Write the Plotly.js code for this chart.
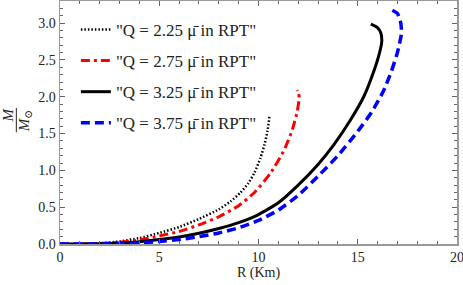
<!DOCTYPE html>
<html><head><meta charset="utf-8">
<script src="https://cdn.plot.ly/plotly-3.0.1.min.js"></script>
<style>html,body{margin:0;padding:0;background:#fff}#c{width:463px;height:285px}</style>
</head><body><div id="c"></div>
<script>
const names = ['"Q = 2.25 μ̄ in RPT"','"Q = 2.75 μ̄ in RPT"','"Q = 3.25 μ̄ in RPT"','"Q = 3.75 μ̄ in RPT"'];
const R1 = [0,1,2,3,4,5,6,7,8,8.6,9.1,9.5,9.8,10.1,10.3,10.45,10.55];
const M1 = [0,0.001,0.01,0.035,0.08,0.15,0.23,0.34,0.47,0.58,0.7,0.83,0.97,1.17,1.35,1.53,1.73];
const R2 = [0,1,2,3,4,5,6,7,8,9,9.8,10.6,11.3,11.7,11.95,12.05,12.02,11.95];
const M2 = [0,0.001,0.007,0.022,0.055,0.11,0.17,0.26,0.37,0.52,0.7,0.96,1.28,1.55,1.8,1.98,2.05,2.09];
const R3 = [0,1,2,3,4,5,6,7,8,9,10,11,12,13,13.8,14.6,15.3,15.8,16.1,16.21,16.16,15.99,15.66];
const M3 = [0,0.0005,0.003,0.012,0.03,0.06,0.095,0.145,0.21,0.29,0.4,0.56,0.8,1.08,1.35,1.67,2.0,2.34,2.6,2.75,2.87,2.94,2.985];
const R4 = [0,1,2,3,4,5,6,7,8,9,10,11,12,13,14,15,15.7,16.3,16.7,17.0,17.2,17.17,17.0,16.7];
const M4 = [0,0.0002,0.001,0.005,0.015,0.035,0.06,0.1,0.15,0.22,0.32,0.46,0.66,0.92,1.2,1.53,1.79,2.08,2.35,2.6,2.86,3.0,3.13,3.18];
const xTitle = 'R (Km)';

const SERIF = 'Liberation Serif, Times New Roman, DejaVu Serif, serif';
const styles = [
  {color:'#000000', width:2.5, dash:'1.5px,2px'},
  {color:'#ff0000', width:3, dash:'9px,4px,3px,4px'},
  {color:'#000000', width:3, dash:'solid'},
  {color:'#0000ff', width:3.5, dash:'9px,5px'}
];
const data = [[R1,M1],[R2,M2],[R3,M3],[R4,M4]].map((d,i)=>({
  x:d[0], y:d[1], type:'scatter', mode:'lines', name:names[i],
  legendgroup:'g'+i, line:Object.assign({shape:'spline', smoothing:0.5}, styles[i])
}));
const ax = {
  showgrid:false, zeroline:false, showline:true, linecolor:'#999', linewidth:1.5,
  mirror:'allticks', ticks:'inside', ticklen:5, tickcolor:'#666', tickwidth:1,
  ticklabeloverflow:'allow',
  tickfont:{family:SERIF, size:14, color:'#222'}
};
const layout = {
  width:463, height:285, margin:{l:60, r:6, t:1, b:41},
  paper_bgcolor:'#fff', plot_bgcolor:'#fff',
  font:{family:SERIF, color:'#222'},
  xaxis:Object.assign({}, ax, {range:[0,20], dtick:5, tick0:0,
    minor:{dtick:1, ticks:'inside', ticklen:3, tickcolor:'#666'},
    title:{text:xTitle, font:{family:SERIF, size:14, color:'#222'}, standoff:2}}),
  yaxis:Object.assign({}, ax, {range:[0,3.3], dtick:0.5, tick0:0, tickformat:'.1f',
    minor:{dtick:0.1, ticks:'inside', ticklen:3, tickcolor:'#666'}}),
  showlegend:true,
  legend:{x:0.04, y:0.955, xanchor:'left', yanchor:'top', bgcolor:'rgba(0,0,0,0)',
    traceorder:'grouped', tracegroupgap:6, font:{family:SERIF, size:17, color:'#222'}},
  annotations:[
    {xref:'paper', yref:'paper', x:-0.13, y:0.53, xanchor:'center', yanchor:'middle', showarrow:false,
     text:'<i>M</i>', textangle:-90, font:{family:SERIF, size:15, color:'#222'}},
    {xref:'paper', yref:'paper', x:-0.088, y:0.505, xanchor:'center', yanchor:'middle', showarrow:false,
     text:'<i>M</i><sub>⊙</sub>', textangle:-90, font:{family:SERIF, size:15, color:'#222'}}
  ],
  shapes:[
    {type:'line', xref:'paper', yref:'paper', x0:-0.11, x1:-0.11, y0:0.46, y1:0.56, line:{color:'#222', width:1}}
  ]
};
Plotly.newPlot('c', data, layout, {displayModeBar:false, staticPlot:true});
</script></body></html>
